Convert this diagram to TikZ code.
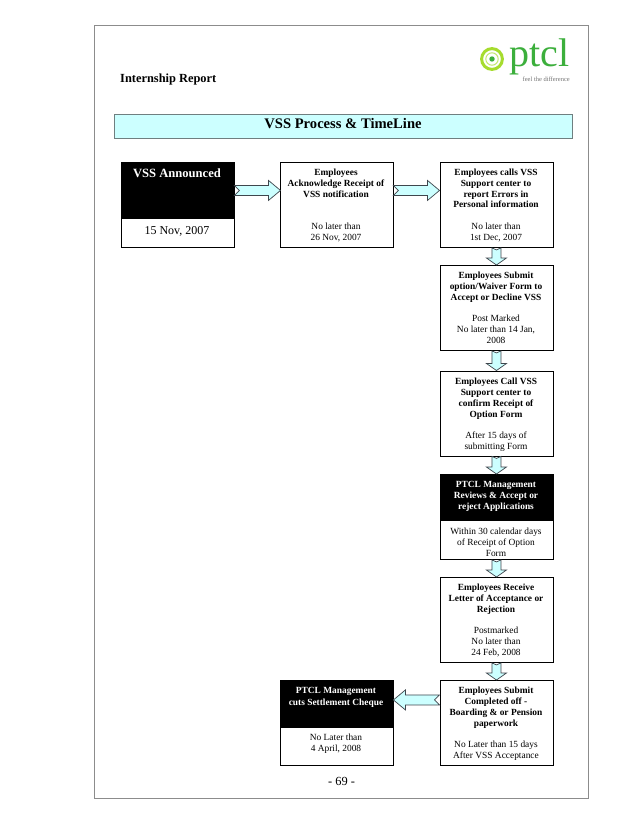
\documentclass[tikz,border=0pt]{standalone}
\usepackage{fontspec}
\setmainfont{Liberation Serif}
\usetikzlibrary{calc}
\definecolor{pale}{HTML}{CCFFFF}
\definecolor{framegray}{HTML}{8C8C8C}
\definecolor{barline}{HTML}{6F7F80}
\definecolor{logolime}{HTML}{A6DC2E}
\definecolor{logogreen}{HTML}{3CAF3C}
\tikzset{
  x=1pt,y=-1pt,
  boxw/.style={draw=black,line width=0.9pt,fill=white,minimum width=113pt,minimum height=85pt,inner sep=0pt,anchor=north west},
  blacktop/.style={fill=black,inner sep=0pt,anchor=north west,minimum width=113pt},
  head/.style={font=\fontsize{9.4}{10.9}\selectfont\bfseries,align=center,anchor=north,inner sep=0pt},
  body/.style={font=\fontsize{9.4}{10.9}\selectfont,align=center,anchor=north,inner sep=0pt},
  blockarr/.style={draw=black!80!cyan,line width=0.7pt,fill=pale,line join=miter},
}
% from, to, shaft half-width, head half-width, head length, notch
\newcommand{\blockarrow}[6]{%
  \coordinate (ba) at (#1);\coordinate (bb) at (#2);
  \coordinate (bh) at ($(bb)!#5pt!(ba)$);
  \draw[blockarr]
    ($(ba)!#3pt!90:(bb)$) -- ($(bh)!#3pt!90:(bb)$) -- ($(bh)!#4pt!90:(bb)$) -- (bb)
    -- ($(bh)!#4pt!-90:(bb)$) -- ($(bh)!#3pt!-90:(bb)$) -- ($(ba)!#3pt!-90:(bb)$)
    -- ($(ba)!#6pt!(bb)$) -- cycle;
}
\begin{document}
\begin{tikzpicture}
\useasboundingbox (0,0) rectangle (638,826);
\fill[white] (0,0) rectangle (638,826);
\draw[framegray,line width=1pt] (94,26) rectangle (588,798);
\node[font=\fontsize{12.4}{14}\selectfont\bfseries,anchor=west,inner sep=0pt] (report) at (120,79.5) {Internship Report};
% logo
\draw[logolime,line width=3pt] (492,59) circle (10.4pt);
\draw[logolime!70!white,line width=1pt] (492,59) circle (6.2pt);
\fill[logogreen] (492,59) circle (2.7pt);
\node[font=\fontsize{40}{40}\selectfont,text=logogreen,anchor=base west,inner sep=0pt] (ptcl) at (509,67) {ptcl};
\node[font=\fontsize{6.5}{7}\selectfont,text=black!55,anchor=east,inner sep=0pt] (feel) at (570,79) {feel the difference};
% title bar
\node[draw=barline,line width=0.9pt,fill=pale,minimum width=458pt,minimum height=24pt,inner sep=0pt,anchor=north west] (bar) at (114,114) {};
\node[font=\fontsize{14.6}{16}\selectfont\bfseries,inner sep=0pt] (bartext) at (343,123.5) {VSS Process \& TimeLine};
% boxes
\node[boxw] (b1) at (120.5,162) {};
\node[boxw] (b2) at (279.5,162) {};
\node[boxw] (b3) at (439.5,162) {};
\node[boxw] (b4) at (439.5,265) {};
\node[boxw] (b5) at (439.5,370.5) {};
\node[boxw] (b6) at (439.5,474) {};
\node[boxw] (b7) at (439.5,577) {};
\node[boxw] (b8) at (439.5,680) {};
\node[boxw] (b9) at (279.5,680) {};
\node[blacktop,minimum height=57pt] (t1) at (120.5,162) {};
\node[blacktop,minimum height=47pt] (t6) at (439.5,474) {};
\node[blacktop,minimum height=48pt] (t9) at (279.5,680) {};
% arrows
\blockarrow{$(b1.east)+(0,-14.5)$}{$(b2.west)+(1,-14.5)$}{5}{10}{12}{5}
\blockarrow{$(b2.east)+(0,-14.5)$}{$(b3.west)+(0,-14.5)$}{5}{10}{12}{5}
\blockarrow{b3.south}{b4.north}{4.5}{10}{7}{2}
\blockarrow{b4.south}{b5.north}{4.5}{10}{7}{2}
\blockarrow{b5.south}{b6.north}{4.5}{10}{7}{2}
\blockarrow{b6.south}{b7.north}{4.5}{10}{7}{2}
\blockarrow{b7.south}{b8.north}{4.5}{10}{7}{2}
\blockarrow{$(b8.west)+(0,-23)$}{$(b9.east)+(0,-23)$}{5}{10}{12}{5}
% texts
\node[head,text=white,font=\fontsize{12.6}{14}\selectfont\bfseries] (x1a) at (177,168.5) {VSS Announced};
\node[body,font=\fontsize{12}{14}\selectfont] (x1b) at (177,226.5) {15 Nov, 2007};
\node[head] (x2a) at (336,168.5) {Employees\\Acknowledge Receipt of\\VSS notification};
\node[body] (x2b) at (336,222.5) {No later than\\26 Nov, 2007};
\node[head] (x3a) at (496,168.5) {Employees calls VSS\\Support center to\\report Errors in\\Personal information};
\node[body] (x3b) at (496,222.5) {No later than\\1st Dec, 2007};
\node[head] (x4a) at (496,272) {Employees Submit\\option/Waiver Form to\\Accept or Decline VSS};
\node[body] (x4b) at (496,315) {Post Marked\\No later than 14 Jan,\\2008};
\node[head] (x5a) at (496,378) {Employees Call VSS\\Support center to\\confirm Receipt of\\Option Form};
\node[body] (x5b) at (496,432) {After 15 days of\\submitting Form};
\node[head,text=white] (x6a) at (496,481) {PTCL Management\\Reviews \& Accept or\\reject Applications};
\node[body] (x6b) at (496,528) {Within 30 calendar days\\of Receipt of Option\\Form};
\node[head] (x7a) at (496,584) {Employees Receive\\Letter of Acceptance or\\Rejection};
\node[body] (x7b) at (496,627) {Postmarked\\No later than\\24 Feb, 2008};
\node[head] (x8a) at (496,687) {Employees Submit\\Completed off -\\Boarding \& or Pension\\paperwork};
\node[body] (x8b) at (496,741) {No Later than 15 days\\After VSS Acceptance};
\node[head,text=white] (x9a) at (336,687) {PTCL Management\\[1pt]cuts Settlement Cheque};
\node[body] (x9b) at (336,734) {No Later than\\4 April, 2008};
\node[font=\fontsize{12.4}{13}\selectfont,inner sep=0pt] (page) at (341.5,781) {- 69 -};
\end{tikzpicture}
\end{document}
